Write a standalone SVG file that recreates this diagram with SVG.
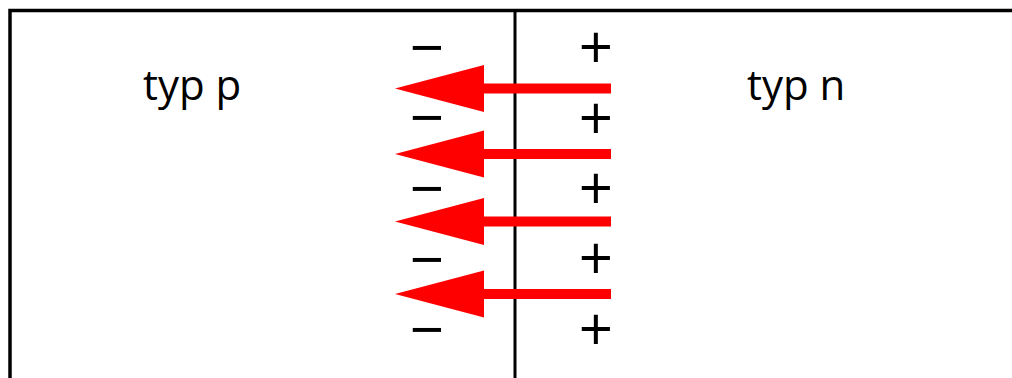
<svg xmlns="http://www.w3.org/2000/svg" width="1012" height="378" viewBox="0 0 1012 378">
<style>
.frame{fill:none;stroke:#000;stroke-width:3.5}
.lbl{font-family:"Open Sans","Noto Sans",sans-serif;font-size:42px;fill:#000}
.sign{font-family:"Open Sans","Noto Sans",sans-serif;font-size:60px;fill:#000;text-anchor:middle}
.shaft{stroke:#ff0000;stroke-width:10;fill:none}
.head{fill:#ff0000}
</style>
<defs>
<g id="arrow">
<line class="shaft" x1="611" y1="0" x2="480" y2="0"/>
<polygon class="head" points="395,0 484,-23.5 484,23.5"/>
</g>
</defs>
<g id="frame">
<polyline class="frame" points="10,378 10,10.5 1012,10.5"/>
<line x1="515" y1="10" x2="515" y2="378" stroke="#000" stroke-width="3"/>
</g>
<g id="region-p"><text class="lbl" x="143" y="100">typ p</text></g>
<g id="region-n"><text class="lbl" x="747" y="100">typ n</text></g>
<g id="charges-minus">
<text class="sign"><tspan x="427" y="69">−</tspan><tspan x="427" y="139">−</tspan><tspan x="427" y="210">−</tspan><tspan x="427" y="281">−</tspan><tspan x="427" y="351">−</tspan></text>
</g>
<g id="charges-plus">
<text class="sign"><tspan x="596" y="69">+</tspan><tspan x="596" y="140">+</tspan><tspan x="596" y="210">+</tspan><tspan x="596" y="280">+</tspan><tspan x="596" y="351">+</tspan></text>
</g>
<g id="connectors">
<use href="#arrow" transform="translate(0,88.5)"/>
<use href="#arrow" transform="translate(0,154)"/>
<use href="#arrow" transform="translate(0,221.5)"/>
<use href="#arrow" transform="translate(0,294)"/>
</g>
</svg>
